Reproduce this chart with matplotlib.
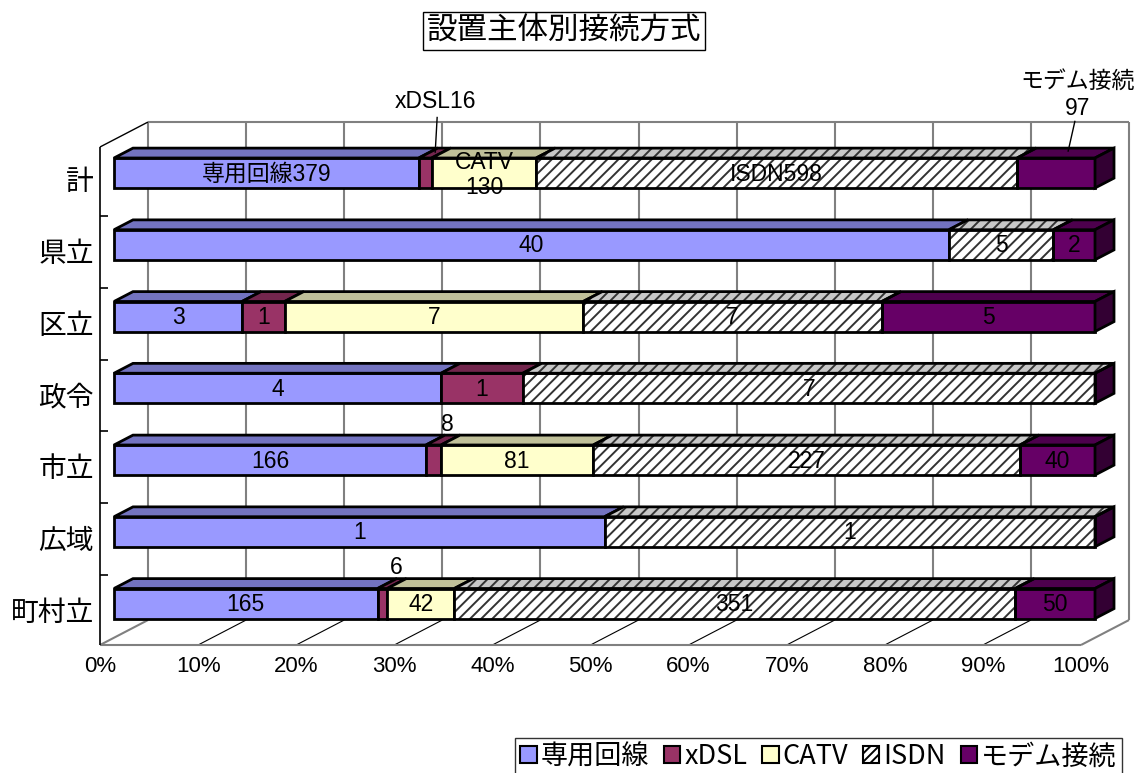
import matplotlib
matplotlib.use('Agg')
import matplotlib.pyplot as plt
from matplotlib.patches import Polygon, Patch

# data
categories = ['計', '県立', '区立', '政令', '市立', '広域', '町村立']
series = ['専用回線', 'xDSL', 'CATV', 'ISDN', 'モデム接続']
senyo = [379, 40, 3, 4, 166, 1, 165]
xdsl = [16, 0, 1, 1, 8, 0, 6]
catv = [130, 0, 7, 0, 81, 0, 42]
isdn = [598, 5, 7, 7, 227, 1, 351]
modem = [97, 2, 5, 0, 40, 0, 50]
ticks = [0, 10, 20, 30, 40, 50, 60, 70, 80, 90, 100]
tick_labels = ['0%', '10%', '20%', '30%', '40%', '50%', '60%', '70%', '80%', '90%', '100%']

values = [senyo, xdsl, catv, isdn, modem]
front_c = ['#9999FF', '#993366', '#FFFFCC', '#FFFFFF', '#660066']
top_c = ['#7373C0', '#73264D', '#C0C099', '#C8C8C8', '#4D004D']
side_c = '#330033'

plt.rcParams['hatch.linewidth'] = 1.4
NUM = ['Liberation Sans', 'Noto Sans CJK JP']
CJK = ['Noto Sans CJK JP', 'DejaVu Sans']

W, Hh = 1137, 773
fig = plt.figure(figsize=(W / 100, Hh / 100), dpi=100)
ax = fig.add_axes([0, 0, 1, 1])
ax.axis('off')

PX = 9.81    # px per percent
PY = 71.75   # px per category
X0, Y0 = 114, 173
ax.set_xlim(-X0 / PX, (W - X0) / PX)
ax.set_ylim((Hh - Y0) / PY, -Y0 / PY)

DX = 1 / PX
DY = 0.52 / PY


def P(x, y, d):
    return (x + d * DX, y - d * DY)


Yt, Yb = -0.464, 6.477     # wall top / floor
DF, DB = -14, 34           # floor front / back wall depth
H = 15 / PY                # bar half height
B = 19                     # bar depth


def line(p, q, **kw):
    ax.plot([p[0], q[0]], [p[1], q[1]], solid_capstyle='butt', **kw)


# walls and floor
for t in ticks:
    line(P(t, Yt, DB), P(t, Yb, DB), color='#808080', lw=1.5, zorder=1)
    if 0 < t < 100:
        line(P(t, Yb, DF), P(t, Yb, DB), color='black', lw=0.8, zorder=1)
line(P(0, Yt, DB), P(100, Yt, DB), color='#808080', lw=1.5, zorder=1)
line(P(0, Yb, DF), P(100, Yb, DF), color='#808080', lw=1.5, zorder=1)
line(P(100, Yb, DF), P(100, Yb, DB), color='#808080', lw=1.5, zorder=1)
line(P(0, Yb, DF), P(0, Yb, DB), color='#808080', lw=1.5, zorder=1)
line(P(0, Yt, DF), P(0, Yt, DB), color='black', lw=1, zorder=1)
line(P(0, Yt, DF), P(0, Yb, DF), color='black', lw=1.2, zorder=1)
for i in range(len(categories) - 1):
    p = P(0, i + 0.5, DF)
    line(p, (p[0] + 8 * DX, p[1]), color='black', lw=1.2, zorder=1)

for i, name in enumerate(categories):
    p = P(0, i, DF)
    ax.text(p[0] - 6 * DX, p[1] + 2 / PY, name, ha='right', va='center',
            fontsize=20, family=CJK)

for t, lab in zip(ticks, tick_labels):
    p = P(t, Yb, DF)
    ax.text(p[0], p[1] + 21 / PY, lab, ha='center', va='center',
            fontsize=16, family=NUM)


def poly(pts, fc, z, hatch=None, hc='black'):
    if hatch:
        ax.add_patch(Polygon(pts, closed=True, facecolor=fc, edgecolor=hc,
                             hatch=hatch, lw=0, zorder=z))
        ax.add_patch(Polygon(pts, closed=True, facecolor='none',
                             edgecolor='black', lw=2, zorder=z + 0.1))
    else:
        ax.add_patch(Polygon(pts, closed=True, facecolor=fc,
                             edgecolor='black', lw=2, joinstyle='miter', zorder=z))


FS = 16.5
# bars
for i in range(len(categories)):
    total = sum(v[i] for v in values)
    left = 0.0
    for j in range(len(series)):
        v = values[j][i]
        w = 100.0 * v / total
        r = left + w
        z = 3 + i * 0.01
        if v > 0:
            hatch = '///' if j == 3 else None
            poly([P(left, i - H, 0), P(r, i - H, 0), P(r, i + H, 0), P(left, i + H, 0)],
                 front_c[j], z, hatch, '#333333')
            poly([P(left, i - H, 0), P(r, i - H, 0), P(r, i - H, B), P(left, i - H, B)],
                 top_c[j], z, hatch, '#333333')
            mid = (left + r) / 2
            if i == 0:
                if j == 1:
                    lp = P(mid, i - H, 10)
                    ax.text(lp[0], lp[1] - 40 / PY, series[j] + str(v), ha='center',
                            va='bottom', fontsize=FS, family=NUM, zorder=6)
                    line(lp, (lp[0] + 2 * DX, lp[1] - 36 / PY), color='black', lw=1, zorder=6)
                elif j == 4:
                    lp = P(mid, i - H, 12)
                    ax.text(lp[0] + 10 * DX, lp[1] - 32 / PY, str(v), ha='center',
                            va='bottom', fontsize=FS, family=NUM, zorder=6)
                    ax.text(lp[0] + 10 * DX, lp[1] - 59 / PY, series[j], ha='center',
                            va='bottom', fontsize=FS, family=CJK, zorder=6)
                    line(lp, (lp[0] + 7 * DX, lp[1] - 31 / PY), color='black', lw=1, zorder=6)
                elif j == 2:
                    ax.text(mid, i - 11 / PY, series[j], ha='center', va='center',
                            fontsize=FS, family=NUM, zorder=6)
                    ax.text(mid, i + 14 / PY, str(v), ha='center', va='center',
                            fontsize=FS, family=NUM, zorder=6)
                else:
                    ax.text(mid, i + 1 / PY, series[j] + str(v), ha='center', va='center',
                            fontsize=FS, family=NUM, zorder=6)
            elif j == 1 and w < 3:
                lp = P(mid, i - H, 10)
                ax.text(lp[0] + 4 * DX, lp[1] - 4 / PY, str(v), ha='center', va='bottom',
                        fontsize=FS, family=NUM, zorder=6)
            else:
                ax.text(mid, i + 1 / PY, str(v), ha='center', va='center',
                        fontsize=FS, family=NUM, zorder=6)
        left = r
    poly([P(100, i - H, 0), P(100, i + H, 0), P(100, i + H, B), P(100, i - H, B)],
         side_c, 3 + i * 0.01)

# title
fig.text(564 / W, 1 - 31 / Hh, '設置主体別接続方式', ha='center', va='center',
         fontsize=22, family=CJK,
         bbox=dict(boxstyle='square,pad=0.12', fc='white', ec='black', lw=1))

# legend
handles = [Patch(facecolor=front_c[j], edgecolor='black', lw=1.5,
                 hatch='////' if j == 3 else None) for j in range(len(series))]
leg = fig.legend(handles, series, loc='upper left', bbox_to_anchor=(515 / W, 1 - 738 / Hh),
                 ncol=5, prop={'family': CJK, 'size': 19.5},
                 handlelength=0.6, handleheight=0.6, handletextpad=0.15,
                 columnspacing=0.55, borderpad=0.2, borderaxespad=0,
                 fancybox=False, frameon=True)
leg.get_frame().set_edgecolor('black')
leg.get_frame().set_linewidth(1)

fig.savefig('out.png', dpi=100)
